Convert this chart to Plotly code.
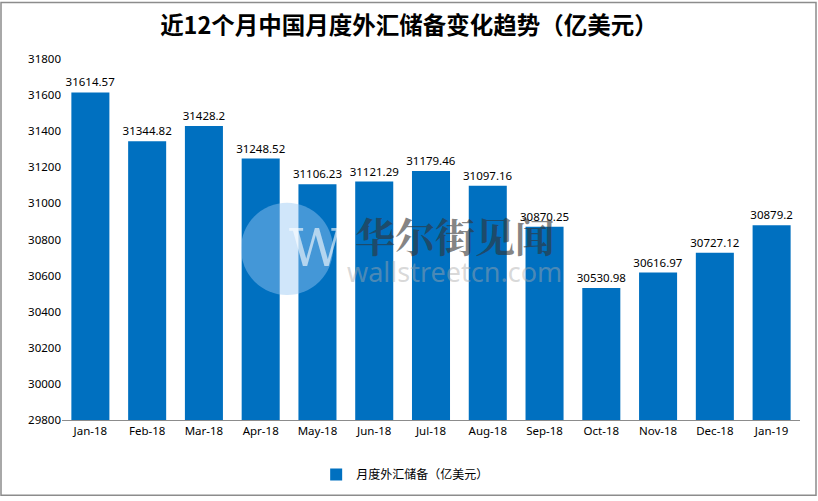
import plotly.graph_objects as go

months = ["Jan-18", "Feb-18", "Mar-18", "Apr-18", "May-18", "Jun-18", "Jul-18",
          "Aug-18", "Sep-18", "Oct-18", "Nov-18", "Dec-18", "Jan-19"]
reserves = [31614.57, 31344.82, 31428.2, 31248.52, 31106.23, 31121.29, 31179.46,
            31097.16, 30870.25, 30530.98, 30616.97, 30727.12, 30879.2]
y_ticks = list(range(29800, 31801, 200))

W, H = 818, 501
L, R, T, B = 62, 18, 59, 78
pw, ph = W - L - R, H - T - B

def px(x):
    return (x - L) / pw

def py(y):
    return (H - B - y) / ph

fig = go.Figure()
fig.add_trace(go.Bar(
    x=months, y=reserves,
    name="月度外汇储备（亿美元）",
    marker=dict(color="#0070C0", line=dict(width=0)),
    text=[str(v) for v in reserves],
    textposition="outside",
    constraintext="none",
    textfont=dict(size=11.5, color="#000000", family="Noto Sans"),
    cliponaxis=False,
))

fig.update_layout(
    width=W, height=H,
    margin=dict(l=L, r=R, t=T, b=B),
    paper_bgcolor="white", plot_bgcolor="white",
    bargap=0.33,
    title=dict(text="<b>近12个月中国月度外汇储备变化趋势（亿美元）</b>",
               x=0.5, xanchor="center", y=1 - 26 / H, yanchor="middle",
               font=dict(size=23.5, family="Noto Sans CJK SC", color="#000000")),
    font=dict(family="Noto Sans", size=11, color="#000000"),
    xaxis=dict(showline=True, linecolor="#8c8c8c", linewidth=1, ticks="",
               showgrid=False, tickfont=dict(size=11.5)),
    yaxis=dict(range=[29800, 31800], tickvals=y_ticks, tickformat="d",
               showgrid=False, showline=False, zeroline=False,
               tickfont=dict(size=11.5), ticks=""),
    showlegend=True,
    legend=dict(orientation="h", x=0.465, xanchor="center", y=py(478), yanchor="middle",
                itemwidth=30,
                font=dict(size=12, family="Noto Sans CJK SC")),
)

# chart border
fig.add_shape(type="rect", xref="paper", yref="paper",
              x0=px(1), x1=px(816), y0=py(499), y1=py(2),
              line=dict(color="#8c8c8c", width=1.5), fillcolor="rgba(0,0,0,0)")

# watermark
fig.add_shape(type="circle", xref="paper", yref="paper",
              x0=px(241), x1=px(333), y0=py(297), y1=py(204),
              line=dict(width=0), fillcolor="rgba(150,200,245,0.45)")
fig.add_annotation(xref="paper", yref="paper", x=px(287), y=py(250),
                   text="W", showarrow=False,
                   font=dict(size=52, family="DejaVu Serif", color="rgba(255,255,255,0.6)"))
fig.add_annotation(xref="paper", yref="paper", x=px(455), y=py(236),
                   text="<b>华尔街见闻</b>", showarrow=False,
                   font=dict(size=40, family="Noto Serif CJK SC, Noto Sans CJK SC",
                             color="rgba(50,50,50,0.6)"))
fig.add_annotation(xref="paper", yref="paper", x=px(455), y=py(273),
                   text="wallstreetcn.com", showarrow=False,
                   font=dict(size=27, family="Noto Sans", color="rgba(170,170,170,0.45)"))

fig.write_html("out.html", config={"displayModeBar": False},
               post_script="document.body.style.margin='0px';document.body.style.overflow='hidden';")
